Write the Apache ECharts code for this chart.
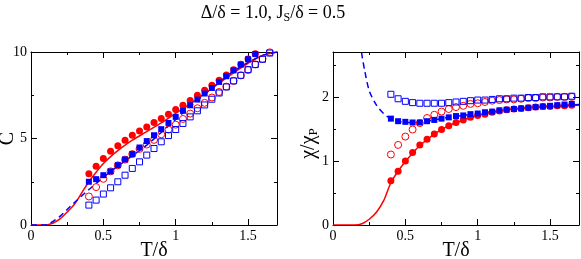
<!DOCTYPE html>
<html><head><meta charset="utf-8">
<script src="https://cdn.jsdelivr.net/npm/echarts@6/dist/echarts.min.js"></script>
<style>html,body{margin:0;padding:0;background:#fff}#c{width:581px;height:259px}</style>
</head><body><div id="c"></div>
<script>
// Temperatures of the symbol data
const T = [0.4,0.45,0.5,0.55,0.6,0.65,0.7,0.75,0.8,0.85,0.9,0.95,1.0,1.05,1.1,1.15,1.2,1.25,1.3,1.35,1.4,1.45,1.5,1.55,1.6,1.65];

// Left panel: C
const C_redFilled  = [2.96,3.4,3.85,4.27,4.58,4.9,5.19,5.44,5.67,5.92,6.15,6.4,6.67,6.92,7.19,7.5,7.79,8.08,8.37,8.67,8.98,9.29,9.6,9.9];
const C_blueFilled = [2.5,2.65,2.88,3.1,3.46,3.79,4.1,4.48,4.85,5.19,5.54,5.9,6.25,6.6,6.92,7.25,7.6,7.92,8.27,8.6,8.94,9.27,9.58,9.88];
const C_redOpen    = [1.65,2.19,2.67,3.1,3.45,3.78,4.1,4.4,4.65,4.92,5.24,5.52,5.8,6.13,6.44,6.75,7.06,7.37,7.69,8.0,8.33,8.65,8.96,9.29,9.6,9.98];
const C_blueOpen   = [1.15,1.44,1.79,2.15,2.5,2.88,3.27,3.65,4.04,4.42,4.81,5.17,5.52,5.87,6.25,6.6,6.94,7.27,7.63,7.98,8.33,8.65,8.98,9.27,9.58,9.94];
const C_lineT   = [0,0.1,0.15,0.2,0.25,0.3,0.35,0.4,0.45,0.5,0.55,0.6,0.7,0.8,0.9,1.0,1.1,1.2,1.3,1.4,1.5,1.6,1.7];
const C_redLine = [0,0,0.1,0.35,0.75,1.2,1.85,2.5,3.05,3.55,3.95,4.3,4.9,5.4,5.9,6.45,7.0,7.6,8.2,8.8,9.35,9.8,10.0];
const C_blueLine= [0,0,0.2,0.5,0.9,1.3,1.68,2.05,2.4,2.75,3.08,3.4,4.0,4.62,5.35,6.1,6.85,7.55,8.25,8.9,9.4,9.8,10.0];

// Right panel: chi/chi_P
const X_redFilled  = [0.69,0.84,1.0,1.13,1.25,1.34,1.42,1.49,1.55,1.6,1.64,1.68,1.71,1.73,1.76,1.78,1.8,1.81,1.82,1.83,1.84,1.85,1.85,1.86,1.86,1.87];
const X_redOpen    = [1.1,1.25,1.38,1.49,1.59,1.67,1.72,1.77,1.81,1.84,1.86,1.89,1.9,1.92,1.94,1.95,1.96,1.96,1.97,1.98,1.98,1.99,1.99,2.0,2.0,2.0];
const X_blueOpen   = [2.04,1.97,1.93,1.91,1.9,1.9,1.9,1.9,1.91,1.92,1.93,1.94,1.95,1.95,1.96,1.97,1.97,1.98,1.98,1.99,1.99,2.0,2.0,2.0,2.0,2.01];
const X_blueFilled = [1.66,1.62,1.61,1.6,1.6,1.62,1.64,1.66,1.68,1.7,1.71,1.73,1.74,1.76,1.77,1.79,1.8,1.81,1.82,1.83,1.84,1.85,1.86,1.87,1.88,1.89];
const X_redLineT = [0,0.15,0.2,0.25,0.3,0.35,0.4,0.45,0.5,0.55,0.6,0.7,0.8,0.9,1.0,1.1,1.2,1.3,1.4,1.5,1.6,1.7];
const X_redLine  = [0,0,0.02,0.09,0.2,0.38,0.66,0.84,0.99,1.12,1.24,1.42,1.55,1.64,1.71,1.76,1.8,1.82,1.84,1.85,1.86,1.87];
const X_blueLineT = [0.18,0.2,0.22,0.25,0.3,0.35,0.4,0.5,0.6,0.7,0.8,0.9,1.0,1.2,1.4,1.6,1.7];
const X_blueLine  = [3.0,2.65,2.4,2.1,1.87,1.74,1.66,1.6,1.6,1.64,1.68,1.71,1.74,1.8,1.84,1.87,1.88];

const xTicks = ['0','0.5','1','1.5'];
const title = 'Δ/δ = 1.0, J_S/δ = 0.5';

const RED = '#ff0000', BLUE = '#0000ff';
const FONT = 'Liberation Serif';
const pairs = (xs, ys) => ys.map((y, i) => [xs[i], y]);

function axesFor(gi, ymax, yint) {
  const base = {
    type: 'value', gridIndex: gi, min: 0, nameMoveOverlap: false,
    axisLine: {show: true, onZero: false, lineStyle: {color: '#000', width: 1}},
    axisTick: {show: true, inside: true, length: 6, lineStyle: {color: '#000'}},
    minorTick: {show: true, splitNumber: 2, length: 3, lineStyle: {color: '#000'}},
    splitLine: {show: false},
    axisLabel: {show: true, color: '#000', fontFamily: FONT, fontSize: 14, margin: 4, showMaxLabel: false}
  };
  const xa = Object.assign({}, base, {max: 1.7, interval: 0.5, position: 'bottom',
    name: 'T/δ', nameLocation: 'middle', nameGap: 16,
    nameTextStyle: {color: '#000', fontFamily: FONT, fontSize: 20}});
  const xt = Object.assign({}, base, {max: 1.7, interval: 0.5, position: 'top',
    axisLabel: {show: false}});
  const ya = Object.assign({}, base, {max: ymax, interval: yint, position: 'left'});
  const yr = Object.assign({}, base, {max: ymax, interval: yint, position: 'right',
    axisLabel: {show: false}});
  return {xa, xt, ya, yr};
}
const A0 = axesFor(0, 10, 5);
const A1 = axesFor(1, 2.7, 1);
A0.ya.name = 'C';
A0.ya.nameLocation = 'middle'; A0.ya.nameGap = 13; A0.ya.nameRotate = 90;
A0.ya.nameTextStyle = {color: '#000', fontFamily: FONT, fontSize: 20};
A0.ya.axisLabel = Object.assign({}, A0.ya.axisLabel, {showMaxLabel: true});
A1.ya.name = '{a|χ/χ}{s|P}';
A1.ya.nameLocation = 'middle'; A1.ya.nameGap = 13; A1.ya.nameRotate = 90;
A1.ya.nameTextStyle = {color: '#000', fontFamily: FONT, fontSize: 20, padding: [0, 10, 0, 0],
  rich: {a: {fontFamily: FONT, fontSize: 20, color: '#000'}, s: {fontFamily: FONT, fontSize: 13, color: '#000', padding: [10, 0, 0, 0]}}};

function sym(name, xi, yi, data, symbol, color, filled, size) {
  return {name, type: 'line', xAxisIndex: xi, yAxisIndex: yi, data, symbol, symbolSize: size,
    showSymbol: true, lineStyle: {width: 0, opacity: 0}, silent: true, animation: false,
    itemStyle: filled ? {color: color, borderWidth: 0} : {color: 'transparent', borderColor: color, borderWidth: 1}};
}
function line(name, xi, yi, data, color, dashed) {
  return {name, type: 'line', xAxisIndex: xi, yAxisIndex: yi, data, showSymbol: false, symbol: 'none',
    smooth: 0.3, clip: true, animation: false, silent: true,
    lineStyle: {color, width: 1.5, type: dashed ? [6, 4] : 'solid'}};
}

const series = [
  sym('rO', 0, 0, pairs(T, C_redOpen), 'circle', RED, false, 7),
  sym('bO', 0, 0, pairs(T, C_blueOpen), 'rect', BLUE, false, 6),
  sym('rF', 0, 0, pairs(T, C_redFilled), 'circle', RED, true, 7),
  sym('bF', 0, 0, pairs(T, C_blueFilled), 'rect', BLUE, true, 6),
  line('rL', 0, 0, pairs(C_lineT, C_redLine), RED, false),
  line('bL', 0, 0, pairs(C_lineT, C_blueLine), BLUE, true),
  sym('rO2', 2, 2, pairs(T, X_redOpen), 'circle', RED, false, 7),
  sym('bO2', 2, 2, pairs(T, X_blueOpen), 'rect', BLUE, false, 6),
  sym('rF2', 2, 2, pairs(T, X_redFilled), 'circle', RED, true, 7),
  sym('bF2', 2, 2, pairs(T, X_blueFilled), 'rect', BLUE, true, 6),
  line('rL2', 2, 2, pairs(X_redLineT, X_redLine), RED, false),
  line('bL2', 2, 2, pairs(X_blueLineT, X_blueLine), BLUE, true)
];

const parts = title.split('_');
const titleRich = '{a|' + parts[0] + '}{s|' + parts[1][0] + '}{a|' + parts[1].slice(1) + '}';

const chart = echarts.init(document.getElementById('c'), null, {renderer: 'canvas'});
chart.setOption({
  animation: false,
  backgroundColor: '#fff',
  title: {text: titleRich, left: 273, top: 2, padding: 0, textAlign: 'center',
    textStyle: {fontWeight: 'normal', rich: {
      a: {fontFamily: FONT, fontSize: 18, fontWeight: 'normal', color: '#000'},
      s: {fontFamily: FONT, fontSize: 12, fontWeight: 'normal', color: '#000', padding: [10, 0, 0, 0]}}}},
  grid: [
    {left: 31, top: 52, width: 246, height: 173, containLabel: false, outerBoundsMode: 'none'},
    {left: 333, top: 52, width: 246, height: 173, containLabel: false, outerBoundsMode: 'none'}
  ],
  xAxis: [A0.xa, A0.xt, A1.xa, A1.xt].map((a, i) => Object.assign({}, a, {gridIndex: i < 2 ? 0 : 1})),
  yAxis: [A0.ya, A0.yr, A1.ya, A1.yr].map((a, i) => Object.assign({}, a, {gridIndex: i < 2 ? 0 : 1})),
  series
});
</script></body></html>
